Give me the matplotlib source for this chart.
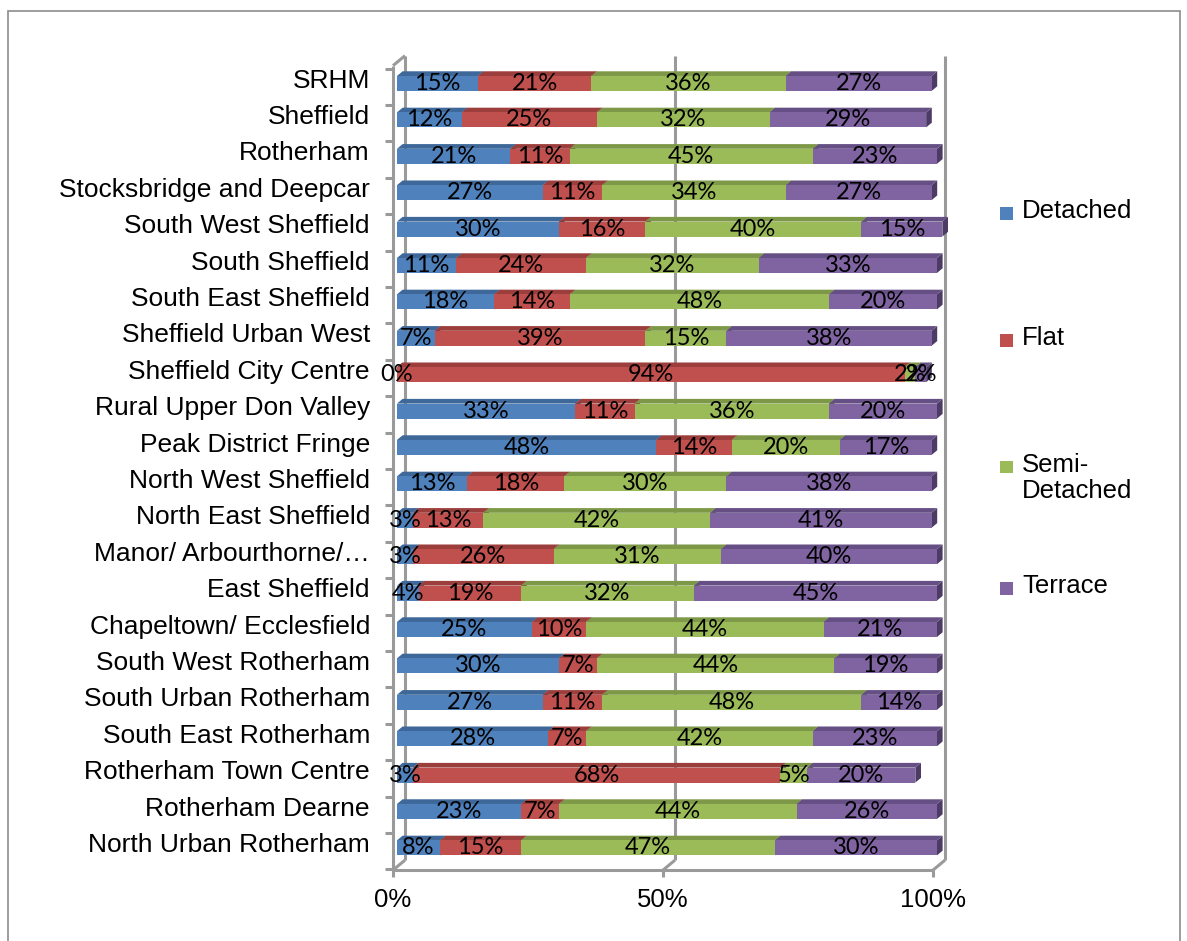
import numpy as np
import matplotlib.pyplot as plt
from matplotlib.patches import Polygon, Rectangle

# data (percent of dwellings by type)
areas = ["SRHM", "Sheffield", "Rotherham", "Stocksbridge and Deepcar",
         "South West Sheffield", "South Sheffield", "South East Sheffield",
         "Sheffield Urban West", "Sheffield City Centre", "Rural Upper Don Valley",
         "Peak District Fringe", "North West Sheffield", "North East Sheffield",
         "Manor/ Arbourthorne/\u2026", "East Sheffield", "Chapeltown/ Ecclesfield",
         "South West Rotherham", "South Urban Rotherham", "South East Rotherham",
         "Rotherham Town Centre", "Rotherham Dearne", "North Urban Rotherham"]
series = ["Detached", "Flat", "Semi-\nDetached", "Terrace"]
detached = [15, 12, 21, 27, 30, 11, 18, 7, 0, 33, 48, 13, 3, 3, 4, 25, 30, 27, 28, 3, 23, 8]
flat = [21, 25, 11, 11, 16, 24, 14, 39, 94, 11, 14, 18, 13, 26, 19, 10, 7, 11, 7, 68, 7, 15]
semi = [36, 32, 45, 34, 40, 32, 48, 15, 2, 36, 20, 30, 42, 31, 32, 44, 44, 48, 42, 5, 44, 47]
terrace = [27, 29, 23, 27, 15, 33, 20, 38, 2, 20, 17, 38, 41, 40, 45, 21, 19, 14, 23, 20, 26, 30]
ticks = [0, 50, 100]

front = ["#4F81BD", "#C0504D", "#9BBB59", "#8064A2"]
top = ["#3D6899", "#9C3E3B", "#7D9948", "#654F84"]
side = ["#304F78", "#7A302E", "#5F7536", "#4C3B65"]
grid = "#9A9A9A"

W, H = 1187, 941
fig = plt.figure(figsize=(W / 100, H / 100), dpi=100)
ax = fig.add_axes([393 / W, 56 / H, 540 / W, 840 / H])
ax.set_xlim(0, 100)
ax.set_ylim(21.929, -1.148)
ax.axis("off")

# depth direction of the pseudo-3D box, in data units per full depth
DX, DY = 12 / 5.4, -10 / 36.4
def dep(x, y, d):
    return x + DX * d, y + DY * d

ytop, ybot = -0.58, 21.52
lw = 2.2
kw = dict(color=grid, lw=lw, clip_on=False, zorder=1, solid_capstyle="butt")

# left wall
for a, b in [((0, ytop), (0, ybot)),
             (dep(0, ytop, 1), dep(0, ybot, 1)),
             ((0, ytop), dep(0, ytop, 1)),
             ((0, ybot), dep(0, ybot, 1))]:
    ax.plot([a[0], b[0]], [a[1], b[1]], **kw)
# back wall gridlines
for v in ticks[1:]:
    a, b = dep(v, ytop, 1), dep(v, ybot, 1)
    ax.plot([a[0], b[0]], [a[1], b[1]], **kw)
    ax.plot([b[0], v], [b[1], ybot], **kw)
# floor front edge and tick marks
ax.plot([0, 100], [ybot, ybot], **kw)
for v in ticks:
    ax.plot([v, v], [ybot, ybot + 0.2], **kw)
    ax.text(v, 22.34, f"{v}%", ha="center", va="center",
            fontsize=18.5, family="Liberation Sans")
for k in range(len(areas) + 1):
    ax.plot([-1.5, 0], [k - 0.5, k - 0.5], **kw)

# bars
d0, d1 = 0.33, 0.8
h = 0.206
vals = np.array([detached, flat, semi, terrace], dtype=float)
for i, name in enumerate(areas):
    left = 0.0
    for s in range(4):
        v = vals[s, i]
        right = left + v
        sp = [dep(right, i - h, d0), dep(right, i + h, d0),
              dep(right, i + h, d1), dep(right, i - h, d1)]
        ax.add_patch(Polygon(sp, closed=True, fc=side[s], ec="none", zorder=2, clip_on=False))
        tp = [dep(left, i - h, d0), dep(right, i - h, d0),
              dep(right, i - h, d1), dep(left, i - h, d1)]
        ax.add_patch(Polygon(tp, closed=True, fc=top[s], ec="none", zorder=3, clip_on=False))
        x0, y0 = dep(left, i, d0)
        ax.barh(y0, v, left=x0, height=2 * h, color=front[s], zorder=4, clip_on=False)
        ax.text(x0 + v / 2, y0, f"{int(v)}%", ha="center", va="center",
                fontsize=17, family="Lato", zorder=6, clip_on=False)
        left = right
    ax.text(-4.26, i - 0.17, name, ha="right", va="center",
            fontsize=19, family="Liberation Sans")

# legend
leg_y = [213, 340, 467, 588]
for s, name in enumerate(series):
    y = 1 - leg_y[s] / H
    fig.patches.append(Rectangle((1000 / W, y - 6.5 / H), 13 / W, 13 / H,
                                 transform=fig.transFigure, fc=front[s], ec="none"))
    fig.text(1022 / W, 1 - (leg_y[s] - 14) / H, name, ha="left", va="top",
             fontsize=18.5, family="Liberation Sans", linespacing=1.09)

# chart border
fig.patches.append(Rectangle((8 / W, -5 / H), 1172 / W, (930 + 5) / H,
                             transform=fig.transFigure, fill=False, ec="#8C8C8C", lw=1.2))

fig.savefig("out.png", dpi=100)
